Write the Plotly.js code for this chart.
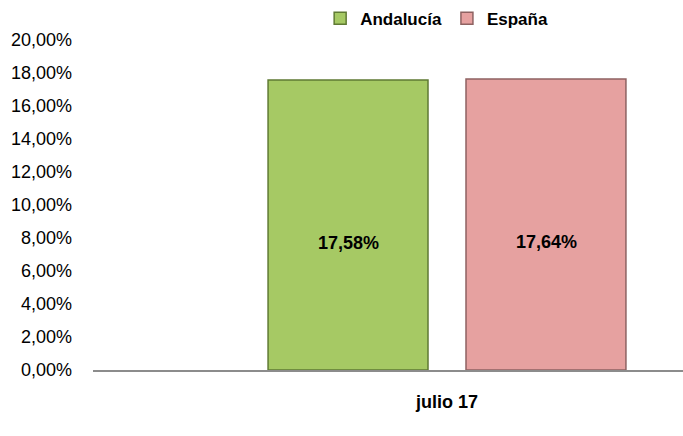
<!DOCTYPE html>
<html><head><meta charset="utf-8">
<script src="https://cdn.plot.ly/plotly-3.0.1.min.js"></script>
<style>html,body{margin:0;padding:0;background:#fff}#c{width:683px;height:436px}</style>
</head><body><div id="c"></div>
<script>
const categories = ["julio 17"];
const seriesNames = ["Andalucía", "España"];
const andalucia = [17.58];
const espana = [17.64];
const yTicks = [0,2,4,6,8,10,12,14,16,18,20];

const FONT = '"Liberation Sans", Arial, sans-serif';
const colors = ['#a6c964', '#e6a1a0'];
const lines = ['#5f7a33', '#8e6261'];
const vals = [andalucia, espana];
const fmt = d => d.toFixed(2).replace('.', ',') + '%';

const traces = vals.map((v, i) => ({
  type: 'bar', name: seriesNames[i], x: categories, y: v,
  marker: {color: colors[i], line: {color: lines[i], width: 1.5}},
  hoverinfo: 'none'
}));

const shiftX = [-99, 99];
const annotations = [];
vals.forEach((v, i) => v.forEach((d, j) => annotations.push({
  x: categories[j], y: d / 2, xref: 'x', yref: 'y', xshift: shiftX[i], yshift: -18,
  text: '<b>' + fmt(d) + '</b>', showarrow: false,
  font: {family: FONT, size: 18, color: '#000'}
})));

const layout = {
  width: 683, height: 436,
  margin: {l: 93, r: 0, t: 40, b: 66},
  paper_bgcolor: '#fff', plot_bgcolor: '#fff',
  barmode: 'group', bargap: 0.329, bargroupgap: 0.192,
  font: {family: FONT, size: 16, color: '#000'},
  showlegend: true,
  annotations: annotations,
  legend: {orientation: 'h', x: 0.385, xanchor: 'left', y: 1.01, yanchor: 'bottom',
    font: {family: FONT, size: 17, weight: 'bold'}, itemwidth: 30, tracegroupgap: 0},
  xaxis: {type: 'category', range: [-0.6, 0.4], showline: true, linecolor: '#8c8c8c', linewidth: 2,
    ticks: '', showgrid: false, zeroline: false, ticklabelstandoff: 14,
    tickfont: {family: FONT, size: 18, weight: 'bold'}},
  yaxis: {range: [0, 20], tickmode: 'array', tickvals: yTicks, ticktext: yTicks.map(fmt),
    showgrid: false, zeroline: false, showline: false, ticks: '', ticklabelstandoff: 20,
    tickfont: {family: FONT, size: 18}}
};
Plotly.newPlot('c', traces, layout, {staticPlot: true});
</script></body></html>
